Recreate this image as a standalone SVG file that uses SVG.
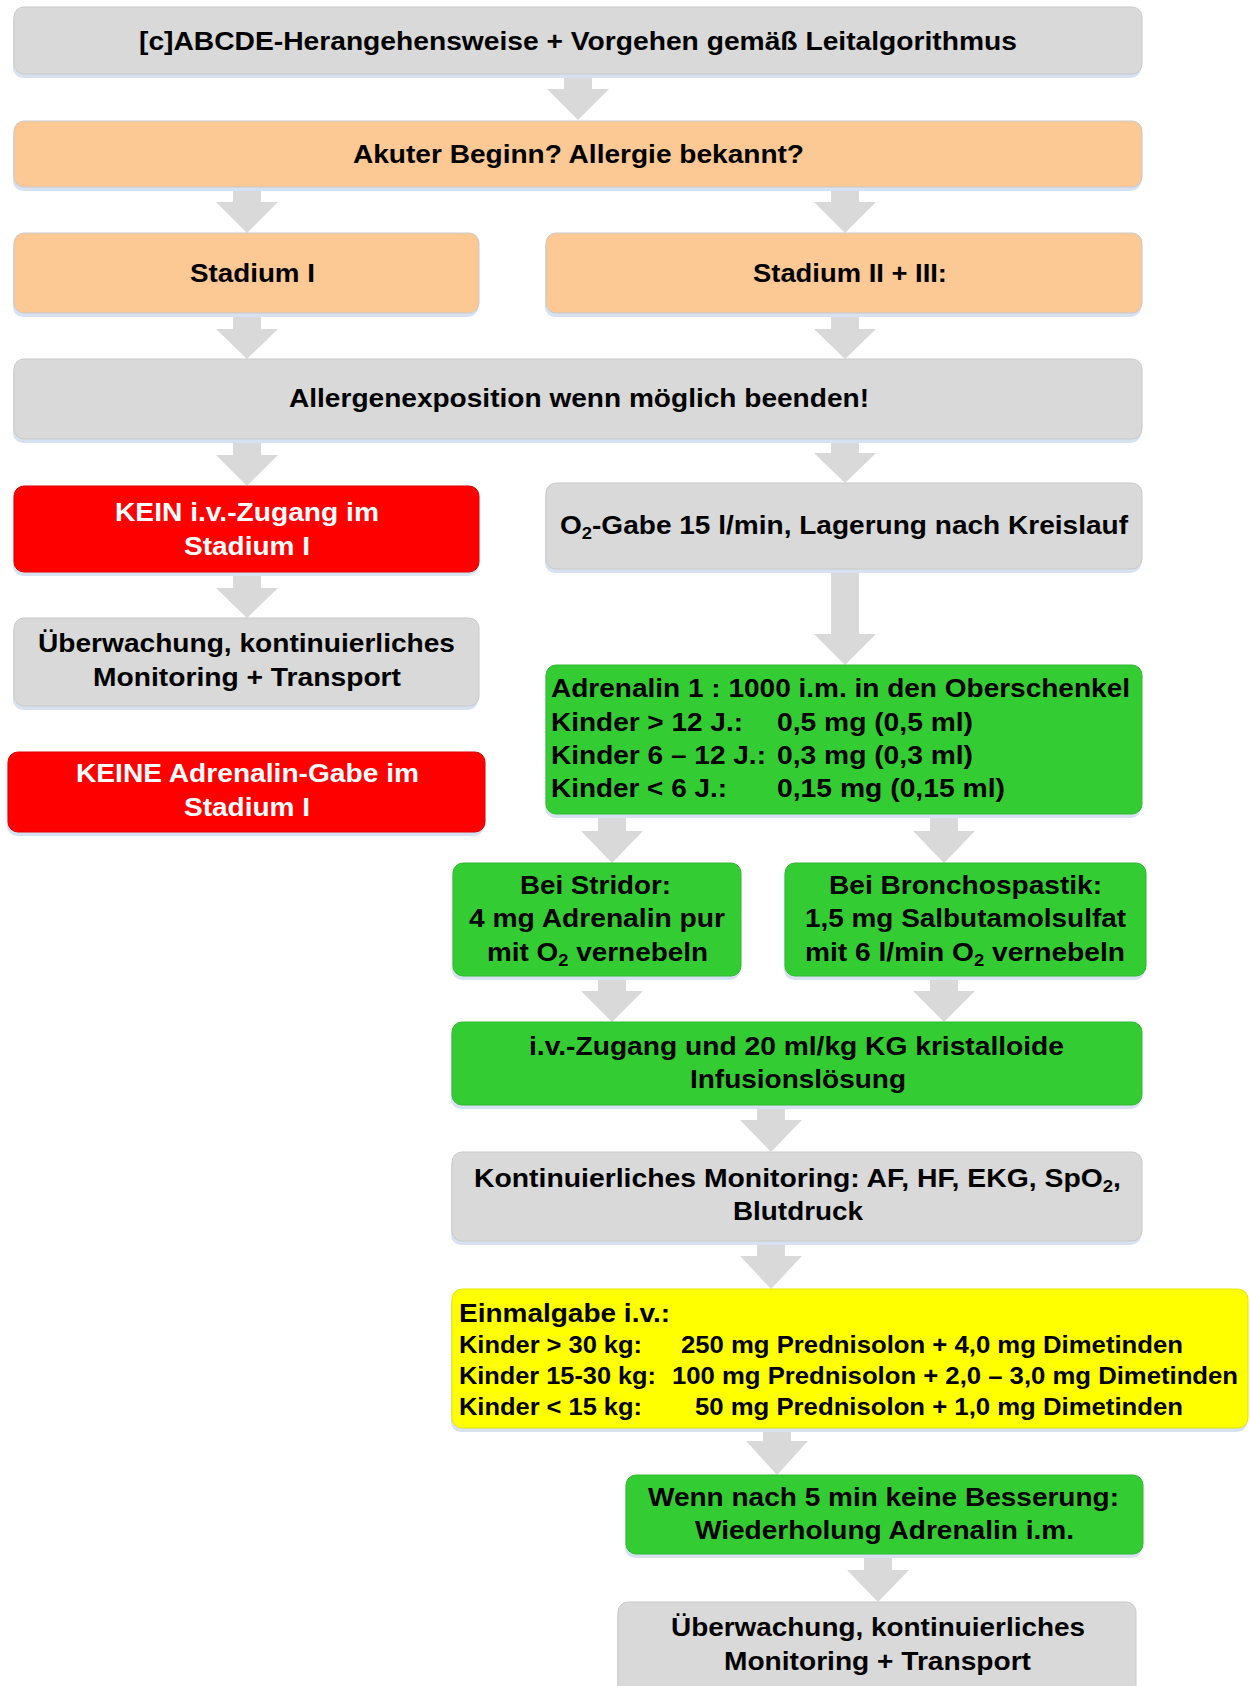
<svg xmlns="http://www.w3.org/2000/svg" width="1250" height="1686" viewBox="0 0 1250 1686">
  <defs>
    <style>
      .box { stroke: #c9c9c9; stroke-width: 1; }
      .sh { fill: #d6e2f1; }
      .gray { fill: #d9d9d9; }
      .orange { fill: #fcc894; }
      .red { fill: #ff0000; stroke: #e00000; }
      .green { fill: #33cc33; stroke: #2fb82f; }
      .yellow { fill: #ffff00; stroke: #e6e600; }
      .arrow { fill: #d9d9d9; }
      text { font-family: "Liberation Sans", Arial, sans-serif; font-weight: bold; font-size: 26px; fill: #000; }
      .w { fill: #ffffff; }
      .s { font-size: 24.5px; }
      .sub { font-size: 17px; }
    </style>
  </defs>

  <rect width="1250" height="1686" fill="#ffffff"/>

  <!-- connectors: block arrows -->
  <g id="connectors">
    <path class="arrow" d="M564,74 H592 V89 H609 L578,120 L547,89 H564 Z"/>
    <path class="arrow" d="M233,187 H261 V202 H278 L247,233 L216,202 H233 Z"/>
    <path class="arrow" d="M831,187 H859 V202 H876 L845,233 L814,202 H831 Z"/>
    <path class="arrow" d="M233,313 H261 V329 H278 L247,359 L216,329 H233 Z"/>
    <path class="arrow" d="M831,313 H859 V329 H876 L845,359 L814,329 H831 Z"/>
    <path class="arrow" d="M233,439 H261 V455 H278 L247,486 L216,455 H233 Z"/>
    <path class="arrow" d="M831,439 H859 V453 H876 L845,483 L814,453 H831 Z"/>
    <path class="arrow" d="M233,572 H261 V588 H278 L247,618 L216,588 H233 Z"/>
    <path class="arrow" d="M831,569 H859 V634 H876 L845,665 L814,634 H831 Z"/>
    <path class="arrow" d="M598,814 H626 V831 H643 L612,863 L581,831 H598 Z"/>
    <path class="arrow" d="M930,814 H958 V831 H975 L944,863 L913,831 H930 Z"/>
    <path class="arrow" d="M598,976 H626 V991 H643 L612,1022 L581,991 H598 Z"/>
    <path class="arrow" d="M930,976 H958 V991 H975 L944,1022 L913,991 H930 Z"/>
    <path class="arrow" d="M757,1105 H785 V1120 H802 L771,1152 L740,1120 H757 Z"/>
    <path class="arrow" d="M757,1241 H785 V1256 H802 L771,1289 L740,1256 H757 Z"/>
    <path class="arrow" d="M763,1428 H791 V1441 H808 L777,1475 L746,1441 H763 Z"/>
    <path class="arrow" d="M864,1554 H892 V1570 H909 L878,1602 L847,1570 H864 Z"/>
  </g>

  <g id="n-abcde">
    <rect class="sh" x="13" y="11" width="1128" height="67" rx="10"/>
    <rect class="box gray" x="14" y="7" width="1128" height="67" rx="10"/>
    <text x="139" y="50" textLength="878" lengthAdjust="spacingAndGlyphs">[c]ABCDE-Herangehensweise + Vorgehen gemäß Leitalgorithmus</text>
  </g>

  <g id="n-akut">
    <rect class="sh" x="13" y="125" width="1128" height="66" rx="10"/>
    <rect class="box orange" x="14" y="121" width="1128" height="66" rx="10"/>
    <text x="353" y="163" textLength="451" lengthAdjust="spacingAndGlyphs">Akuter Beginn? Allergie bekannt?</text>
  </g>

  <g id="n-stadium1">
    <rect class="sh" x="13" y="237" width="465" height="80" rx="10"/>
    <rect class="box orange" x="14" y="233" width="465" height="80" rx="10"/>
    <text x="190" y="282" textLength="125" lengthAdjust="spacingAndGlyphs">Stadium I</text>
  </g>

  <g id="n-stadium23">
    <rect class="sh" x="545" y="237" width="596" height="80" rx="10"/>
    <rect class="box orange" x="546" y="233" width="596" height="80" rx="10"/>
    <text x="753" y="282" textLength="194" lengthAdjust="spacingAndGlyphs">Stadium II + III:</text>
  </g>

  <g id="n-allergen">
    <rect class="sh" x="13" y="363" width="1128" height="80" rx="10"/>
    <rect class="box gray" x="14" y="359" width="1128" height="80" rx="10"/>
    <text x="289" y="407" textLength="580" lengthAdjust="spacingAndGlyphs">Allergenexposition wenn möglich beenden!</text>
  </g>

  <g id="n-kein-iv">
    <rect class="sh" x="13" y="490" width="465" height="86" rx="10"/>
    <rect class="box red" x="14" y="486" width="465" height="86" rx="10"/>
    <text class="w" x="115" y="521" textLength="264" lengthAdjust="spacingAndGlyphs">KEIN i.v.-Zugang im</text>
    <text class="w" x="184" y="555" textLength="126" lengthAdjust="spacingAndGlyphs">Stadium I</text>
  </g>

  <g id="n-o2">
    <rect class="sh" x="545" y="487" width="596" height="86" rx="10"/>
    <rect class="box gray" x="546" y="483" width="596" height="86" rx="10"/>
    <text x="560" y="534" textLength="568" lengthAdjust="spacingAndGlyphs">O<tspan class="sub" dy="5">2</tspan><tspan dy="-5">-Gabe 15 l/min, Lagerung nach Kreislauf</tspan></text>
  </g>

  <g id="n-ueberwachung-1">
    <rect class="sh" x="13" y="622" width="465" height="88" rx="10"/>
    <rect class="box gray" x="14" y="618" width="465" height="88" rx="10"/>
    <text x="38" y="652" textLength="417" lengthAdjust="spacingAndGlyphs">Überwachung, kontinuierliches</text>
    <text x="93" y="686" textLength="308" lengthAdjust="spacingAndGlyphs">Monitoring + Transport</text>
  </g>

  <g id="n-keine-adrenalin">
    <rect class="sh" x="7" y="756" width="477" height="80" rx="10"/>
    <rect class="box red" x="8" y="752" width="477" height="80" rx="10"/>
    <text class="w" x="76" y="782" textLength="343" lengthAdjust="spacingAndGlyphs">KEINE Adrenalin-Gabe im</text>
    <text class="w" x="184" y="816" textLength="126" lengthAdjust="spacingAndGlyphs">Stadium I</text>
  </g>

  <g id="n-adrenalin">
    <rect class="sh" x="545" y="669" width="596" height="149" rx="10"/>
    <rect class="box green" x="546" y="665" width="596" height="149" rx="10"/>
    <text x="551" y="697" textLength="579" lengthAdjust="spacingAndGlyphs">Adrenalin 1 : 1000 i.m. in den Oberschenkel</text>
    <text x="551" y="731" textLength="192" lengthAdjust="spacingAndGlyphs">Kinder &gt; 12 J.:</text>
    <text x="777" y="731" textLength="196" lengthAdjust="spacingAndGlyphs">0,5 mg (0,5 ml)</text>
    <text x="551" y="764" textLength="215" lengthAdjust="spacingAndGlyphs">Kinder 6 – 12 J.:</text>
    <text x="777" y="764" textLength="196" lengthAdjust="spacingAndGlyphs">0,3 mg (0,3 ml)</text>
    <text x="551" y="797" textLength="176" lengthAdjust="spacingAndGlyphs">Kinder &lt; 6 J.:</text>
    <text x="777" y="797" textLength="228" lengthAdjust="spacingAndGlyphs">0,15 mg (0,15 ml)</text>
  </g>

  <g id="n-stridor">
    <rect class="sh" x="452" y="867" width="288" height="113" rx="10"/>
    <rect class="box green" x="453" y="863" width="288" height="113" rx="10"/>
    <text x="520" y="894" textLength="151" lengthAdjust="spacingAndGlyphs">Bei Stridor:</text>
    <text x="469" y="927" textLength="256" lengthAdjust="spacingAndGlyphs">4 mg Adrenalin pur</text>
    <text x="487" y="961" textLength="221" lengthAdjust="spacingAndGlyphs">mit O<tspan class="sub" dy="5">2</tspan><tspan dy="-5"> vernebeln</tspan></text>
  </g>

  <g id="n-bronchospastik">
    <rect class="sh" x="784" y="867" width="361" height="113" rx="10"/>
    <rect class="box green" x="785" y="863" width="361" height="113" rx="10"/>
    <text x="829" y="894" textLength="273" lengthAdjust="spacingAndGlyphs">Bei Bronchospastik:</text>
    <text x="805" y="927" textLength="321" lengthAdjust="spacingAndGlyphs">1,5 mg Salbutamolsulfat</text>
    <text x="805" y="961" textLength="320" lengthAdjust="spacingAndGlyphs">mit 6 l/min O<tspan class="sub" dy="5">2</tspan><tspan dy="-5"> vernebeln</tspan></text>
  </g>

  <g id="n-iv-zugang">
    <rect class="sh" x="451" y="1026" width="690" height="83" rx="10"/>
    <rect class="box green" x="452" y="1022" width="690" height="83" rx="10"/>
    <text x="529" y="1055" textLength="535" lengthAdjust="spacingAndGlyphs">i.v.-Zugang und 20 ml/kg KG kristalloide</text>
    <text x="690" y="1088" textLength="216" lengthAdjust="spacingAndGlyphs">Infusionslösung</text>
  </g>

  <g id="n-monitoring">
    <rect class="sh" x="451" y="1156" width="690" height="89" rx="10"/>
    <rect class="box gray" x="452" y="1152" width="690" height="89" rx="10"/>
    <text x="474" y="1187" textLength="647" lengthAdjust="spacingAndGlyphs">Kontinuierliches Monitoring: AF, HF, EKG, SpO<tspan class="sub" dy="5">2</tspan><tspan dy="-5">,</tspan></text>
    <text x="733" y="1220" textLength="130" lengthAdjust="spacingAndGlyphs">Blutdruck</text>
  </g>

  <g id="n-einmalgabe">
    <rect class="sh" x="451" y="1293" width="796" height="139" rx="10"/>
    <rect class="box yellow" x="452" y="1289" width="796" height="139" rx="10"/>
    <text x="459" y="1322" textLength="211" lengthAdjust="spacingAndGlyphs">Einmalgabe i.v.:</text>
    <text class="s" x="459" y="1353" textLength="183" lengthAdjust="spacingAndGlyphs">Kinder &gt; 30 kg:</text>
    <text class="s" x="681" y="1353" textLength="502" lengthAdjust="spacingAndGlyphs">250 mg Prednisolon + 4,0 mg Dimetinden</text>
    <text class="s" x="459" y="1384" textLength="197" lengthAdjust="spacingAndGlyphs">Kinder 15-30 kg:</text>
    <text class="s" x="672" y="1384" textLength="566" lengthAdjust="spacingAndGlyphs">100 mg Prednisolon + 2,0 – 3,0 mg Dimetinden</text>
    <text class="s" x="459" y="1415" textLength="183" lengthAdjust="spacingAndGlyphs">Kinder &lt; 15 kg:</text>
    <text class="s" x="695" y="1415" textLength="488" lengthAdjust="spacingAndGlyphs">50 mg Prednisolon + 1,0 mg Dimetinden</text>
  </g>

  <g id="n-wiederholung">
    <rect class="sh" x="625" y="1479" width="517" height="79" rx="10"/>
    <rect class="box green" x="626" y="1475" width="517" height="79" rx="10"/>
    <text x="648" y="1506" textLength="471" lengthAdjust="spacingAndGlyphs">Wenn nach 5 min keine Besserung:</text>
    <text x="695" y="1539" textLength="379" lengthAdjust="spacingAndGlyphs">Wiederholung Adrenalin i.m.</text>
  </g>

  <g id="n-ueberwachung-2">
    <rect class="sh" x="617" y="1606" width="518" height="100" rx="10"/>
    <rect class="box gray" x="618" y="1602" width="518" height="100" rx="10"/>
    <text x="671" y="1636" textLength="414" lengthAdjust="spacingAndGlyphs">Überwachung, kontinuierliches</text>
    <text x="724" y="1670" textLength="307" lengthAdjust="spacingAndGlyphs">Monitoring + Transport</text>
  </g>
</svg>
